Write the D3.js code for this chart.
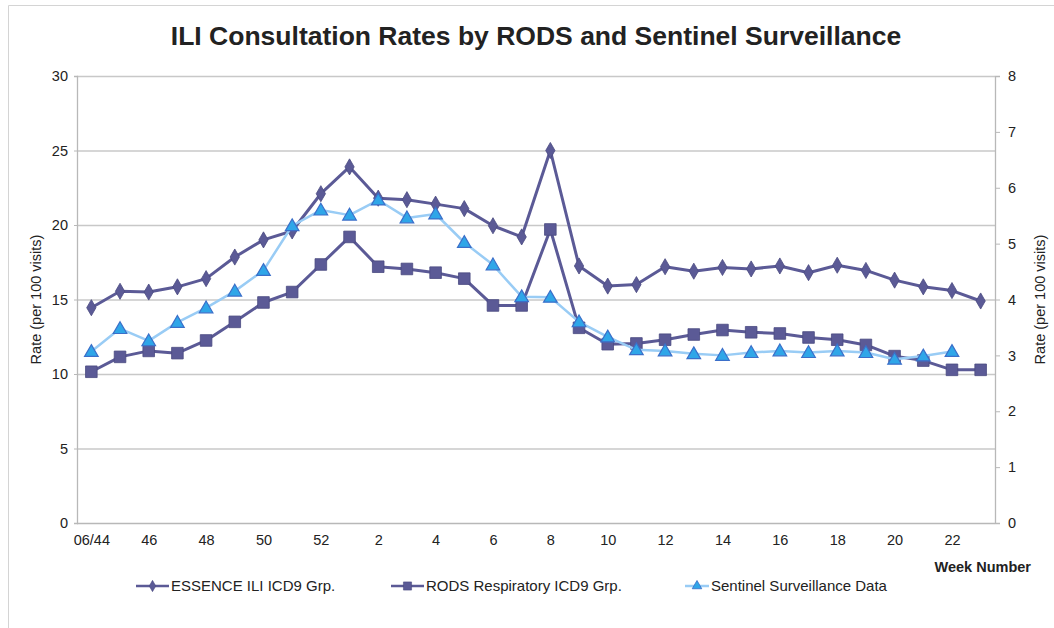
<!DOCTYPE html>
<html lang="en">
  <head>
    <title>ILI Consultation Rates by RODS and Sentinel Surveillance</title>
    <meta charset="utf-8">
    <script src="https://d3js.org/d3.v7.min.js"></script>
    <style>
      body { margin: 0; background: #fff; font-family: "Liberation Sans", Arial, sans-serif; }
      svg text { fill: #222; }
    </style>
  </head>
  <body>
    <svg></svg>

    <script>
      // semanas (06/44 ate 23)
      const weeks = ['06/44', '45', '46', '47', '48', '49', '50', '51', '52', '1',
                     '2', '3', '4', '5', '6', '7', '8', '9', '10', '11', '12', '13',
                     '14', '15', '16', '17', '18', '19', '20', '21', '22', '23']
      const weekTicks = ['06/44', '46', '48', '50', '52', '2', '4', '6', '8', '10',
                         '12', '14', '16', '18', '20', '22']

      // eixo esquerdo
      const essence = [14.45, 15.55, 15.5, 15.85, 16.4, 17.85, 19.0, 19.6, 22.1, 23.9,
                       21.8, 21.7, 21.4, 21.1, 19.95, 19.2, 25.0, 17.25, 15.9, 16.0,
                       17.2, 16.9, 17.15, 17.05, 17.25, 16.8, 17.3, 16.95, 16.3, 15.85,
                       15.6, 14.9]
      const rods = [10.15, 11.15, 11.55, 11.4, 12.25, 13.5, 14.8, 15.5, 17.35, 19.2,
                    17.2, 17.05, 16.8, 16.4, 14.6, 14.6, 19.7, 13.1, 12.0, 12.05,
                    12.3, 12.65, 12.95, 12.8, 12.72, 12.45, 12.3, 11.95, 11.2, 10.9,
                    10.28, 10.28]
      // eixo direito (sem valor na semana 23)
      const sentinel = [3.07, 3.48, 3.26, 3.59, 3.85, 4.15, 4.52, 5.32, 5.6, 5.51,
                        5.78, 5.46, 5.53, 5.02, 4.62, 4.05, 4.04, 3.6, 3.33, 3.1,
                        3.08, 3.03, 3.0, 3.05, 3.08, 3.05, 3.08, 3.05, 2.93, 2.99,
                        3.07, null]

      const leftTicks = [0, 5, 10, 15, 20, 25, 30]
      const rightTicks = [0, 1, 2, 3, 4, 5, 6, 7, 8]

      const W = 1054, H = 628
      const m = { top: 76, right: 59, bottom: 105, left: 77 }
      const dark = '#5b5a96', light = '#99ccf5', triFill = '#2fa6e8', triStroke = '#3b6fc9'
      const font = '"Liberation Sans", Arial, sans-serif'

      const svg = d3.select('svg')
        .attr('width', W)
        .attr('height', H)

      // moldura externa
      svg.append('path')
        .attr('d', `M8.5,${H} V5.5 H${W}`)
        .attr('fill', 'none')
        .attr('stroke', '#d4d4d4')

      svg.append('text')
        .attr('x', 536).attr('y', 45)
        .attr('text-anchor', 'middle')
        .style('font-size', '26.5px').style('font-weight', 'bold')
        .text('ILI Consultation Rates by RODS and Sentinel Surveillance')

      const x = d3.scalePoint()
        .domain(weeks)
        .range([m.left, W - m.right])
        .padding(0.5)

      const yL = d3.scaleLinear().domain([0, 30]).range([H - m.bottom, m.top])
      const yR = d3.scaleLinear().domain([0, 8]).range([H - m.bottom, m.top])

      // linhas de grade
      svg.append('g')
        .selectAll('line')
        .data(leftTicks.slice(1))
        .join('line')
          .attr('x1', m.left).attr('x2', W - m.right)
          .attr('y1', d => yL(d) + 0.5).attr('y2', d => yL(d) + 0.5)
          .attr('stroke', '#c8c8c8')
          .attr('stroke-width', 1.3)

      const axisL = svg.append('g')
        .attr('transform', `translate(${m.left},0)`)
        .call(d3.axisLeft(yL).tickValues(leftTicks).tickSize(3).tickPadding(6))
      const axisR = svg.append('g')
        .attr('transform', `translate(${W - m.right},0)`)
        .call(d3.axisRight(yR).tickValues(rightTicks).tickSize(5).tickPadding(8))
      const axisB = svg.append('g')
        .attr('transform', `translate(0,${H - m.bottom})`)
        .call(d3.axisBottom(x).tickValues(weekTicks).tickSize(0).tickPadding(12))

      ;[axisL, axisR, axisB].forEach(a => {
        a.select('.domain').attr('stroke', '#b8b8b8').attr('stroke-width', 1.3)
        a.selectAll('.tick line').attr('stroke', '#b8b8b8')
        a.selectAll('.tick text')
          .style('font-family', font)
          .style('font-size', '14.5px').attr('fill', '#222')
      })
      axisB.select('.domain').attr('d', `M${m.left},0.5H${W - m.right}`)

      const midY = (m.top + H - m.bottom) / 2
      svg.append('text')
        .attr('transform', `translate(41,${midY}) rotate(-90)`)
        .attr('text-anchor', 'middle')
        .style('font-size', '14.5px')
        .text('Rate (per 100 visits)')
      svg.append('text')
        .attr('transform', `translate(1045,${midY}) rotate(-90)`)
        .attr('text-anchor', 'middle')
        .style('font-size', '14.5px')
        .text('Rate (per 100 visits)')

      svg.append('text')
        .attr('x', 1031).attr('y', 572)
        .attr('text-anchor', 'end')
        .style('font-size', '14.5px').style('font-weight', 'bold')
        .text('Week Number')

      // series
      const series = [
        { name: 'ESSENCE ILI ICD9 Grp.', values: essence, y: yL, color: dark, marker: 'diamond' },
        { name: 'RODS Respiratory ICD9 Grp.', values: rods, y: yL, color: dark, marker: 'square' },
        { name: 'Sentinel Surveillance Data', values: sentinel, y: yR, color: light, marker: 'triangle' }
      ]

      const symbols = {
        diamond: d3.symbol().type(d3.symbolDiamond).size(75),
        square: d3.symbol().type(d3.symbolSquare).size(135),
        triangle: d3.symbol().type(d3.symbolTriangle).size(80)
      }

      function drawMarker(sel, marker) {
        sel.attr('d', symbols[marker]())
        if (marker === 'triangle') {
          sel.attr('fill', triFill).attr('stroke', triStroke).attr('stroke-width', 1.2)
        } else {
          sel.attr('fill', dark).attr('stroke', '#4a4a80').attr('stroke-width', 0.8)
        }
      }

      series.forEach(s => {
        const pts = s.values.map((v, i) => ({ w: weeks[i], v })).filter(d => d.v != null)
        const line = d3.line().x(d => x(d.w)).y(d => s.y(d.v))
        svg.append('path')
          .datum(pts)
          .attr('d', line)
          .attr('fill', 'none')
          .attr('stroke', s.color)
          .attr('stroke-width', s.marker === 'triangle' ? 2.5 : 3)
          .attr('stroke-linejoin', 'round')
        svg.append('g')
          .selectAll('path')
          .data(pts)
          .join('path')
            .attr('transform', d => `translate(${x(d.w)},${s.y(d.v) + (s.marker === 'triangle' ? 1 : 0)})`)
            .call(drawMarker, s.marker)
      })

      // legenda
      const legX = [136, 391, 685]
      const legW = [33, 33, 24]
      const legend = svg.append('g')
        .selectAll('g')
        .data(series)
        .join('g')
          .attr('transform', (d, i) => `translate(${legX[i]},586)`)
      legend.append('line')
        .attr('x1', 0).attr('x2', (d, i) => legW[i])
        .attr('stroke', d => d.color)
        .attr('stroke-width', 2.5)
      legend.append('path')
        .attr('transform', (d, i) => `translate(${legW[i] / 2},0) scale(0.7)`)
        .each(function (d) { d3.select(this).call(drawMarker, d.marker) })
      legend.append('text')
        .attr('x', (d, i) => legW[i] + 2).attr('dy', '0.35em')
        .style('font-size', '15px')
        .text(d => d.name)
    </script>
  </body>
</html>
